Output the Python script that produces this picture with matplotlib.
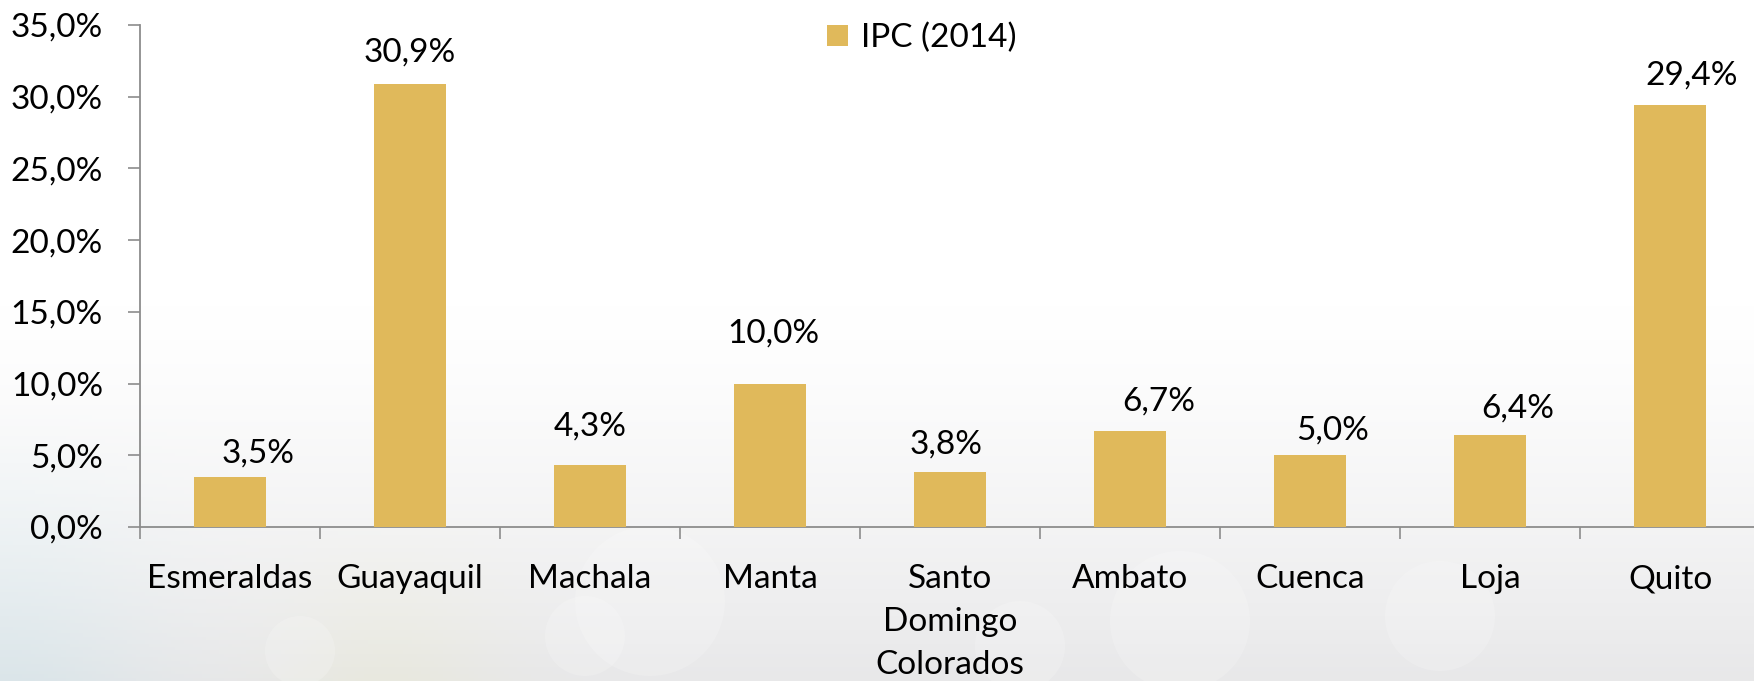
import numpy as np
import matplotlib
matplotlib.use("Agg")
import matplotlib.pyplot as plt
from matplotlib.patches import Circle
from matplotlib.ticker import FuncFormatter

# datos del grafico
ciudades = ["Esmeraldas", "Guayaquil", "Machala", "Manta", "Santo\nDomingo\nColorados",
            "Ambato", "Cuenca", "Loja", "Quito"]
ipc_2014 = [3.5, 30.9, 4.3, 10.0, 3.8, 6.7, 5.0, 6.4, 29.4]
etiquetas = ["3,5%", "30,9%", "4,3%", "10,0%", "3,8%", "6,7%", "5,0%", "6,4%", "29,4%"]
serie = "IPC (2014)"

# desplazamiento de cada etiqueta (pixeles) como en el original
dx_etiqueta = [28, 0, 0, 3, -4, 29, 23, 28, 22]
dy_etiqueta = [14, 22, 30, 41, 19, 20, 16, 18, 21]

plt.rcParams['font.family'] = ['Lato', 'DejaVu Sans']
color_barra = '#E0B95B'
color_eje = '#8C8C8C'
fs = 24
W, H = 1754, 681

fig = plt.figure(figsize=(W / 100, H / 100), dpi=100)

# fondo: blanco arriba, gris claro abajo con algo de brillo (unidades = pixeles)
fondo = fig.add_axes([0, 0, 1, 1], zorder=-10)
h, w = 200, 400
yy = np.linspace(0, 1, h)[:, None]
xx = np.linspace(0, 1, w)[None, :]
t = np.clip((yy - 0.45) / 0.55, 0, 1) ** 1.3
img = np.ones((h, w, 3))
gris = np.array([0.91, 0.91, 0.915])
img = img * (1 - t[..., None]) + gris * t[..., None]
azul = np.exp(-((xx - 0.0) / 0.08) ** 2) * np.clip((yy - 0.6) / 0.4, 0, 1)
img[..., 0] -= 0.05 * azul
img[..., 1] -= 0.01 * azul
brillo = np.exp(-((xx - 0.22) / 0.06) ** 2) * np.clip((yy - 0.75) / 0.25, 0, 1)
img[..., 2] -= 0.04 * brillo
fondo.imshow(np.clip(img, 0, 1), extent=[0, W, 0, H], aspect='auto', origin='upper')
for cx, cy, r in [(650, 80, 75), (585, 45, 40), (1180, 60, 70), (1440, 65, 55),
                  (1020, 35, 45), (300, 30, 35)]:
    fondo.add_patch(Circle((cx, cy), r, facecolor='white', edgecolor='none', alpha=0.18))
fondo.set_xlim(0, W)
fondo.set_ylim(0, H)
fondo.axis('off')

ax = fig.add_axes([140 / W, 1 - 527 / H, 1620 / W, 502 / H])
ax.set_facecolor('none')
x = np.arange(len(ciudades))
ax.bar(x, ipc_2014, width=0.4, color=color_barra, label=serie, zorder=3)

for i, (v, txt) in enumerate(zip(ipc_2014, etiquetas)):
    ax.annotate(txt, xy=(i, v), xytext=(dx_etiqueta[i], dy_etiqueta[i]),
                textcoords='offset pixels', ha='center', va='baseline', fontsize=fs)

ax.set_xlim(-0.5, len(ciudades) - 0.5)
ax.set_ylim(0, 35)
ax.set_yticks(np.arange(0, 36, 5))
ax.yaxis.set_major_formatter(FuncFormatter(lambda v, p: f"{v:.1f}%".replace('.', ',')))
ax.set_xticks(x)
ax.set_xticklabels(ciudades, linespacing=1.54)
ax.set_xticks(np.arange(-0.5, len(ciudades)), minor=True)
ax.tick_params(axis='x', which='major', length=0, pad=27, labelsize=fs)
ax.tick_params(axis='x', which='minor', length=8.6, width=1.2, color=color_eje, direction='out')
ax.tick_params(axis='y', length=8.6, width=1.2, color=color_eje, pad=18, labelsize=fs)

for s in ['top', 'right']:
    ax.spines[s].set_visible(False)
for s in ['left', 'bottom']:
    ax.spines[s].set_color(color_eje)
    ax.spines[s].set_linewidth(1.3)

fig.legend(loc='center', bbox_to_anchor=(922 / W, 1 - 38 / H), frameon=False,
           fontsize=fs, handlelength=0.62, handleheight=0.62, handletextpad=0.4,
           borderaxespad=0)

fig.savefig('out.png', dpi=100)
